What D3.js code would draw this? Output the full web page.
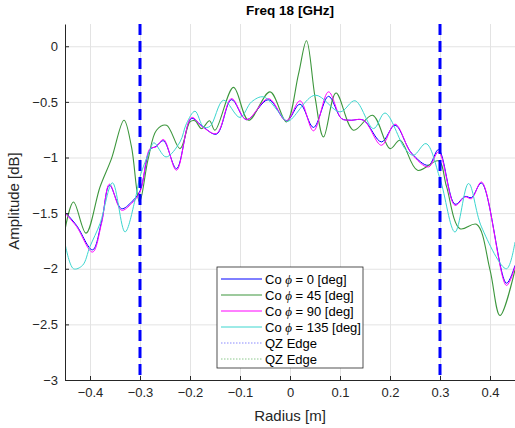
<!DOCTYPE html>
<html>
<head>
<meta charset="utf-8">
<script src="https://cdn.jsdelivr.net/npm/d3@7"></script>
<style>
  body { margin: 0; background: #fff; }
  svg { display: block; font-family: "Liberation Sans", Arial, sans-serif; }
  .axis path, .axis line { stroke: #262626; }
  .axis text { fill: #262626; font-size: 13px; }
  .grid line { stroke: #e3e3e3; }
  .grid path { display: none; }
</style>
</head>
<body>
<div id="chart"></div>
<script>
// data: [radius m, amplitude dB]
const xTicks = [-0.4, -0.3, -0.2, -0.1, 0, 0.1, 0.2, 0.3, 0.4];
const yTicks = [-3, -2.5, -2, -1.5, -1, -0.5, 0];
const qzEdges = [-0.3, 0.3];

const co0 = [
  [-0.45, -1.49], [-0.427, -1.61], [-0.395, -1.83], [-0.377, -1.58], [-0.361, -1.25],
  [-0.337, -1.46], [-0.317, -1.40], [-0.3, -1.30], [-0.28, -0.93], [-0.268, -0.90],
  [-0.253, -0.85], [-0.227, -1.10], [-0.197, -0.65], [-0.175, -0.72], [-0.147, -0.79],
  [-0.117, -0.48], [-0.087, -0.66], [-0.043, -0.48], [-0.007, -0.67], [0.02, -0.52],
  [0.047, -0.73], [0.077, -0.45], [0.103, -0.65], [0.12, -0.665], [0.147, -0.665],
  [0.183, -0.86], [0.21, -0.71], [0.243, -0.96], [0.277, -1.07], [0.297, -0.93],
  [0.33, -1.42], [0.35, -1.35], [0.363, -1.36], [0.383, -1.23], [0.433, -2.13], [0.45, -1.97]
];
const co45 = [
  [-0.45, -1.65], [-0.433, -1.40], [-0.408, -1.68], [-0.38, -1.265], [-0.357, -1.01],
  [-0.332, -0.665], [-0.317, -0.905], [-0.301, -1.40], [-0.284, -1.02], [-0.267, -0.755],
  [-0.247, -0.71], [-0.22, -0.92], [-0.2, -0.68], [-0.19, -0.67], [-0.177, -0.74],
  [-0.161, -0.67], [-0.15, -0.755], [-0.113, -0.37], [-0.083, -0.665], [-0.04, -0.41],
  [-0.007, -0.68], [0.017, -0.25], [0.033, 0.05], [0.05, -0.455], [0.067, -0.815],
  [0.092, -0.42], [0.127, -0.755], [0.165, -0.62], [0.2, -0.92], [0.22, -0.845],
  [0.255, -1.115], [0.297, -1.03], [0.313, -1.26], [0.34, -1.64], [0.373, -1.60],
  [0.4, -2.01], [0.42, -2.42], [0.45, -2.01]
];
const co90 = [
  [-0.45, -1.50], [-0.427, -1.62], [-0.395, -1.85], [-0.377, -1.594], [-0.361, -1.24],
  [-0.337, -1.474], [-0.317, -1.414], [-0.3, -1.31], [-0.28, -0.92], [-0.268, -0.905],
  [-0.253, -0.838], [-0.227, -1.114], [-0.197, -0.64], [-0.175, -0.725], [-0.147, -0.784],
  [-0.117, -0.47], [-0.087, -0.66], [-0.043, -0.47], [-0.007, -0.67], [0.02, -0.49],
  [0.047, -0.76], [0.077, -0.41], [0.103, -0.65], [0.12, -0.665], [0.147, -0.665],
  [0.183, -0.89], [0.21, -0.70], [0.243, -0.965], [0.277, -1.085], [0.297, -0.95],
  [0.33, -1.43], [0.35, -1.354], [0.363, -1.37], [0.383, -1.22], [0.433, -2.15], [0.45, -1.98]
];
const co135 = [
  [-0.45, -1.77], [-0.433, -2.0], [-0.415, -1.97], [-0.4, -1.80], [-0.38, -1.594],
  [-0.355, -1.228], [-0.33, -1.669], [-0.31, -1.384], [-0.3, -1.174], [-0.28, -0.934],
  [-0.272, -0.868], [-0.248, -0.995], [-0.22, -0.86], [-0.207, -0.694], [-0.19, -0.584],
  [-0.173, -0.725], [-0.16, -0.72], [-0.133, -0.485], [-0.1, -0.64], [-0.077, -0.5],
  [-0.053, -0.455], [-0.02, -0.605], [-0.005, -0.675], [0.05, -0.44], [0.1, -0.59],
  [0.13, -0.49], [0.167, -0.74], [0.19, -0.6], [0.23, -0.92], [0.247, -0.98],
  [0.272, -0.875], [0.3, -1.19], [0.33, -1.67], [0.357, -1.234], [0.383, -1.624],
  [0.433, -2.0], [0.45, -1.76]
];

const series = [
  { name: '0', data: co0, color: '#0000ff', width: 1 },
  { name: '45', data: co45, color: '#3c963c', width: 1.1 },
  { name: '90', data: co90, color: '#ff00ff', width: 1 },
  { name: '135', data: co135, color: '#3cd6cf', width: 1 }
];

const width = 515;
const height = 428;
const margin = { top: 24, right: 0, bottom: 48, left: 65 };
const innerWidth = width - margin.left - margin.right;
const innerHeight = height - margin.top - margin.bottom;

const svg = d3.select('#chart')
  .append('svg')
  .attr('width', width)
  .attr('height', height);

const g = svg.append('g')
  .attr('transform', `translate(${margin.left}, ${margin.top})`);

const scaleX = d3.scaleLinear().domain([-0.45, 0.45]).range([0, innerWidth]);
const scaleY = d3.scaleLinear().domain([-3, 0.2]).range([innerHeight, 0]);

// grid
g.append('g')
  .attr('class', 'grid')
  .attr('transform', `translate(0, ${innerHeight})`)
  .call(d3.axisBottom(scaleX).tickValues(xTicks).tickSize(-innerHeight).tickFormat(''))
  .selectAll('text').remove();

g.append('g')
  .attr('class', 'grid')
  .call(d3.axisLeft(scaleY).tickValues(yTicks).tickSize(-innerWidth).tickFormat(''))
  .selectAll('text').remove();

g.append('clipPath')
  .attr('id', 'plot-clip')
  .append('rect')
  .attr('width', innerWidth)
  .attr('height', innerHeight);

const plot = g.append('g').attr('clip-path', 'url(#plot-clip)');

const line = d3.line()
  .x(d => scaleX(d[0]))
  .y(d => scaleY(d[1]))
  .curve(d3.curveCatmullRom.alpha(0.5));

series.forEach(s => {
  plot.append('path')
    .datum(s.data)
    .attr('fill', 'none')
    .attr('stroke', s.color)
    .attr('stroke-width', s.width)
    .attr('d', line);
});

// QZ edges
plot.selectAll('.qz')
  .data(qzEdges)
  .enter()
  .append('line')
  .attr('class', 'qz')
  .attr('x1', d => scaleX(d))
  .attr('x2', d => scaleX(d))
  .attr('y1', 0)
  .attr('y2', innerHeight)
  .attr('stroke', '#0000ff')
  .attr('stroke-width', 3)
  .attr('stroke-dasharray', '11,6');

// axes
const xAxis = g.append('g')
  .attr('class', 'axis')
  .attr('transform', `translate(0, ${innerHeight})`)
  .call(d3.axisBottom(scaleX).tickValues(xTicks).tickSizeInner(-4).tickSizeOuter(0).tickPadding(8)
    .tickFormat(d => d3.format('')(+d.toFixed(1))));
xAxis.selectAll('text').attr('dy', '0.71em');

g.append('g')
  .attr('class', 'axis')
  .call(d3.axisLeft(scaleY).tickValues(yTicks).tickSizeInner(-4).tickSizeOuter(0).tickPadding(7)
    .tickFormat(d => d3.format('')(d)));

g.selectAll('.axis path').attr('stroke-width', 1);

// title and labels
svg.append('text')
  .attr('x', margin.left + scaleX(0))
  .attr('y', 15)
  .attr('text-anchor', 'middle')
  .attr('font-weight', 'bold')
  .attr('font-size', 13.5)
  .attr('fill', '#000')
  .text('Freq 18 [GHz]');

svg.append('text')
  .attr('x', margin.left + scaleX(0))
  .attr('y', 421)
  .attr('text-anchor', 'middle')
  .attr('font-size', 15)
  .attr('fill', '#262626')
  .text('Radius [m]');

svg.append('text')
  .attr('transform', `translate(19, ${margin.top + innerHeight / 2 - 1}) rotate(-90)`)
  .attr('text-anchor', 'middle')
  .attr('font-size', 15)
  .attr('fill', '#262626')
  .text('Amplitude [dB]');

// legend
const legendItems = series.map(s => ({ label: s.name, color: s.color, width: s.width, dotted: false }))
  .concat([
    { label: null, color: '#8a8aff', width: 1, dotted: true },
    { label: null, color: '#8cc88c', width: 1, dotted: true }
  ]);

const legend = svg.append('g').attr('transform', 'translate(217, 267)');

legend.append('rect')
  .attr('width', 146)
  .attr('height', 101)
  .attr('fill', '#fff')
  .attr('stroke', '#262626')
  .attr('stroke-width', 0.8);

const row = legend.selectAll('.row')
  .data(legendItems)
  .enter()
  .append('g')
  .attr('transform', (d, i) => `translate(0, ${12 + i * 16})`);

row.append('line')
  .attr('x1', 4)
  .attr('x2', 45)
  .attr('stroke', d => d.color)
  .attr('stroke-width', d => (d.dotted ? 1 : d.width))
  .attr('stroke-dasharray', d => (d.dotted ? '1.5,1.5' : null));

// each label is built from separate text pieces so the phi can be italic
row.each(function (d) {
  const r = d3.select(this);
  const pieces = d.label === null
    ? [{ text: 'QZ Edge', italic: false }]
    : [
        { text: 'Co', italic: false },
        { text: '\u03d5', italic: true },
        { text: `= ${d.label} [deg]`, italic: false }
      ];
  let x = 48;
  pieces.forEach(p => {
    const t = r.append('text')
      .attr('x', x)
      .attr('dy', '0.35em')
      .attr('font-size', 13)
      .attr('fill', '#000')
      .text(p.text);
    if (p.italic) t.attr('font-style', 'italic').attr('font-family', 'Liberation Serif');
    x += t.node().getComputedTextLength() + 3.6;
  });
});
</script>
</body>
</html>
